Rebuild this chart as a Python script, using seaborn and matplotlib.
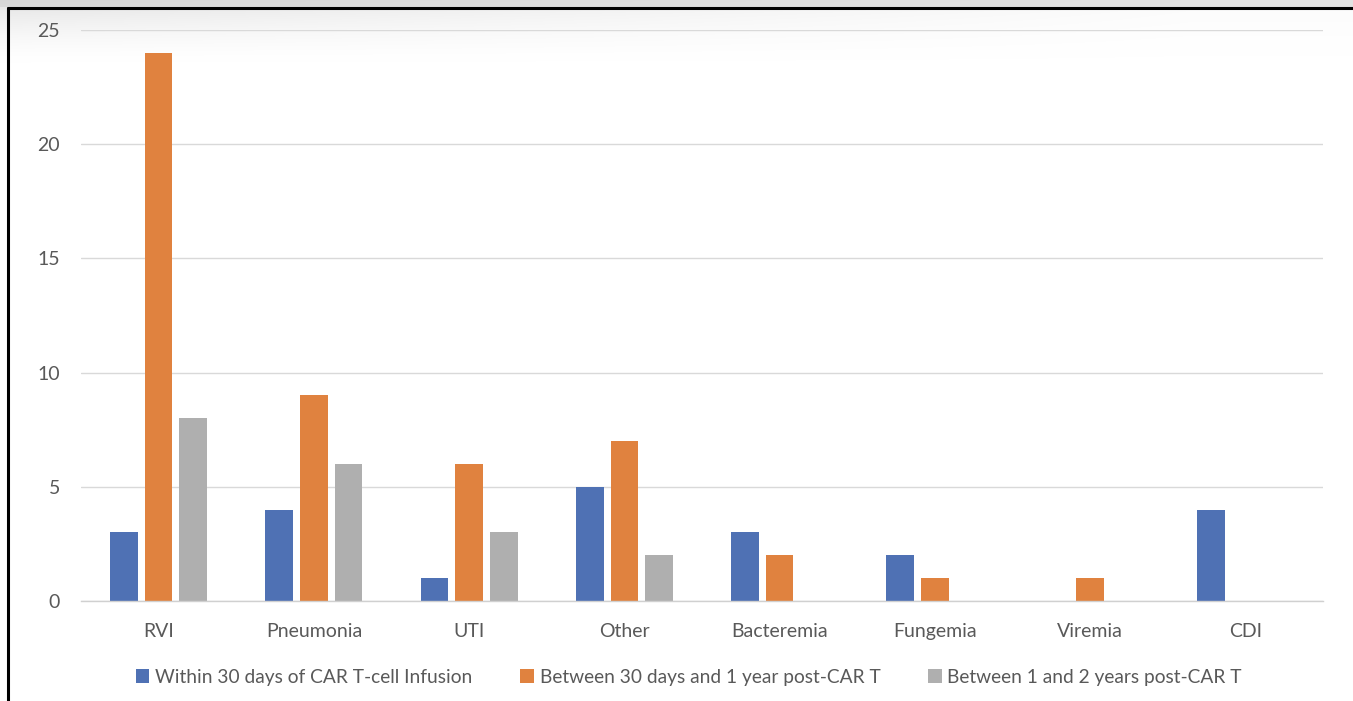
import numpy as np
import pandas as pd
import matplotlib
matplotlib.use("Agg")
import matplotlib.pyplot as plt
from matplotlib.patches import Rectangle
from matplotlib.lines import Line2D
import seaborn as sns

# Infection types and counts per period after CAR T-cell infusion
categories = ["RVI", "Pneumonia", "UTI", "Other", "Bacteremia", "Fungemia", "Viremia", "CDI"]
series_names = [
    "Within 30 days of CAR T-cell Infusion",
    "Between 30 days and 1 year post-CAR T",
    "Between 1 and 2 years post-CAR T",
]
within_30_days = [3, 4, 1, 5, 3, 2, 0, 4]
days30_to_1yr = [24, 9, 6, 7, 2, 1, 1, 0]
yr1_to_2yr = [8, 6, 3, 2, 0, 0, 0, 0]
y_ticks = [0, 5, 10, 15, 20, 25]

colors = ["#4F71B4", "#E0823F", "#AFAFAF"]
text_color = "#595959"

df = pd.DataFrame({
    "category": categories * 3,
    "period": np.repeat(series_names, len(categories)),
    "count": within_30_days + days30_to_1yr + yr1_to_2yr,
})

sns.set_theme(style="white")
plt.rcParams["font.family"] = ["Lato", "DejaVu Sans"]

fig = plt.figure(figsize=(13.53, 7.01), dpi=100)
fig.patch.set_facecolor("white")

# soft grey haze along the top edge
W, H = 1353, 701
yy, xx = np.mgrid[0:70, 0:W]
alpha = np.clip(1 - yy / 65.0, 0, 1) ** 1.6 * np.clip(1 - xx / 1400.0, 0.15, 1) * 0.55
haze = np.zeros((70, W, 4))
haze[..., :3] = 0.80
haze[..., 3] = alpha
hax = fig.add_axes([0, 1 - 70 / H, 1, 70 / H], zorder=-5)
hax.imshow(haze, aspect="auto", extent=[0, 1, 0, 1])
hax.set_axis_off()

ax = fig.add_axes([81 / W, 1 - 601 / H, (1323 - 81) / W, (601 - 30) / H])
ax.set_facecolor("none")
sns.barplot(
    data=df, x="category", y="count", hue="period",
    hue_order=series_names, order=categories, palette=colors,
    width=0.67, gap=0.2, ax=ax, legend=False, saturation=1,
    edgecolor="none", linewidth=0,
)

ax.set_xlim(-0.5, len(categories) - 0.5)
ax.set_ylim(0, 25)
ax.set_yticks(y_ticks)
ax.yaxis.grid(True, color="#D9D9D9", linewidth=1.0)
ax.set_axisbelow(True)
for side in ["top", "right", "left"]:
    ax.spines[side].set_visible(False)
ax.spines["bottom"].set_color("#D0D0D0")
ax.spines["bottom"].set_linewidth(1.0)
ax.tick_params(axis="both", length=0, colors=text_color, labelsize=14)
ax.tick_params(axis="y", pad=15)
ax.tick_params(axis="x", pad=15.5)
ax.set_xlabel("")
ax.set_ylabel("")
ax.set_ylim(0, 25)

handles = [Rectangle((0, 0), 1, 1, facecolor=c, edgecolor="none") for c in colors]
fig.legend(
    handles, series_names, loc="center", bbox_to_anchor=(689 / W, 1 - 677 / H),
    ncol=3, frameon=False, fontsize=13.8, labelcolor=text_color,
    handlelength=0.7, handleheight=0.7, handletextpad=0.3, columnspacing=2.5,
)

# frame lines on the top and left edges
fig.add_artist(Line2D([7.5 / W, 7.5 / W], [0, 1 - 7.5 / H], color="black", linewidth=2.2))
fig.add_artist(Line2D([7.5 / W, 1], [1 - 7.5 / H, 1 - 7.5 / H], color="black", linewidth=2.2))
fig.add_artist(Rectangle((0, 1 - 6.5 / H), 1, 6.5 / H, facecolor="#E4E4E4", edgecolor="none", transform=fig.transFigure, zorder=-6))

fig.savefig("out.png", dpi=100)
